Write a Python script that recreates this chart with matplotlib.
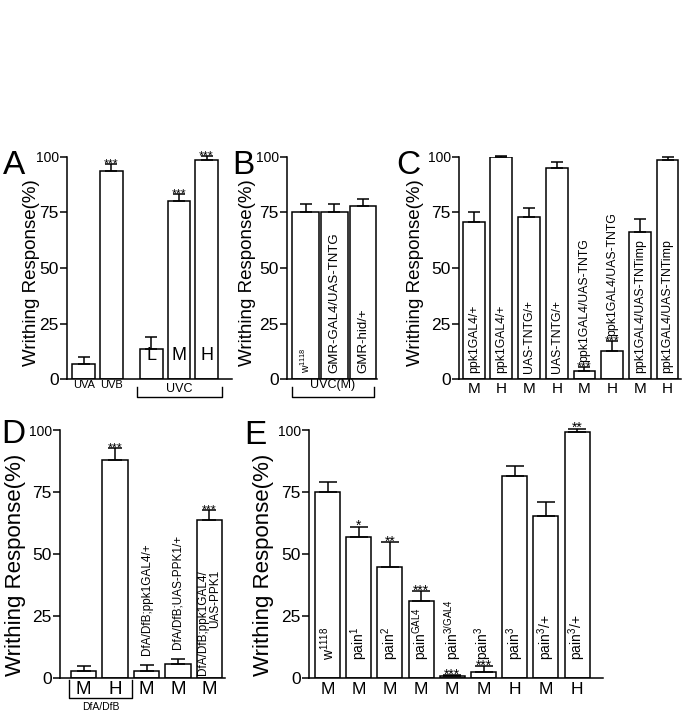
import numpy as np
import matplotlib
matplotlib.use("Agg")
import matplotlib.pyplot as plt

plt.rcParams['font.family'] = ['Liberation Sans', 'DejaVu Sans']
plt.rcParams['mathtext.fontset'] = 'custom'
plt.rcParams['mathtext.rm'] = 'Liberation Sans'
plt.rcParams['mathtext.it'] = 'Liberation Sans:italic'
plt.rcParams['mathtext.bf'] = 'Liberation Sans:bold'

# -------------------------------------------------------------------
# DATA
# -------------------------------------------------------------------
A_ticks = ["UVA", "UVB", "", "", ""]
A_inside = ["", "", "L", "M", "H"]
A_mean = [6.6, 93.5, 13.5, 80.0, 98.5]
A_sem = [3.2, 3.3, 5.5, 3.3, 2.1]
A_stars = ["", "***", "", "***", "***"]

B_labels = [r"w$^{1118}$", "GMR-GAL4/UAS-TNTG", "GMR-hid/+"]
B_mean = [75.0, 75.0, 78.0]
B_sem = [3.7, 3.7, 3.3]

C_ticks = ["M", "H", "M", "H", "M", "H", "M", "H"]
C_labels = ["ppk1GAL4/+", "ppk1GAL4/+", "UAS-TNTG/+", "UAS-TNTG/+",
            "ppk1GAL4/UAS-TNTG", "ppk1GAL4/UAS-TNTG",
            "ppk1GAL4/UAS-TNTimp", "ppk1GAL4/UAS-TNTimp"]
C_mean = [70.8, 100.0, 73.1, 94.9, 3.6, 12.6, 66.4, 98.6]
C_sem = [4.5, 0.3, 3.8, 3.0, 1.9, 4.5, 5.6, 1.4]
C_stars = ["", "", "", "", "***", "***", "", ""]

D_ticks = ["M", "H", "M", "M", "M"]
D_labels = ["", "", "DfA/DfB;ppk1GAL4/+", "DfA/DfB;UAS-PPK1/+",
            "DfA/DfB;ppk1GAL4/\nUAS-PPK1"]
D_mean = [3.0, 88.0, 3.0, 5.6, 63.6]
D_sem = [1.9, 4.7, 2.3, 2.0, 4.3]
D_stars = ["", "***", "", "", "***"]

E_ticks = ["M", "M", "M", "M", "M", "M", "H", "M", "H"]
E_labels = [r"w$^{1118}$", r"pain$^{1}$", r"pain$^{2}$", r"pain$^{\mathrm{GAL4}}$",
            r"pain$^{\mathrm{3/GAL4}}$", r"pain$^{3}$", r"pain$^{3}$",
            r"pain$^{3}$/+", r"pain$^{3}$/+"]
E_mean = [75.2, 56.7, 44.7, 30.9, 0.7, 2.4, 81.3, 65.4, 99.0]
E_sem = [3.8, 4.3, 10.1, 4.0, 0.4, 2.3, 4.3, 5.5, 1.6]
E_stars = ["", "*", "**", "***", "***", "***", "", "", "**"]

W, H = 685, 714
fig = plt.figure(figsize=(W / 100, H / 100), dpi=100)


def make_axes(x0, x1, y100, y0, c0, slot):
    """axes placed in pixel units; c0 = pixel centre of first bar, slot = bar spacing"""
    ax = fig.add_axes([x0 / W, 1 - y0 / H, (x1 - x0) / W, (y0 - y100) / H])
    ax.set_xlim((x0 - c0) / slot, (x1 - c0) / slot)
    ax.set_ylim(0, 100)
    for s in ["top", "right"]:
        ax.spines[s].set_visible(False)
    for s in ["left", "bottom"]:
        ax.spines[s].set_linewidth(1.1)
    ax.set_yticks([0, 25, 50, 75, 100])
    ax.set_yticklabels(["0", "25", "50", "75", "100"])
    ax.tick_params(axis="y", length=5, width=1.1, labelsize=12.5, pad=1)
    ax.get_yticklabels()[-1].set_fontsize(10)
    ax.tick_params(axis="x", length=0, labelsize=11, pad=2)
    return ax


def draw_bars(ax, pos, mean, sem, width, capsize, stars=None, star_size=10):
    ax.bar(pos, mean, width, color="white", edgecolor="black", linewidth=1.1, zorder=2)
    eb = ax.errorbar(pos, mean, yerr=[np.zeros(len(mean)), sem], fmt="none",
                     ecolor="black", elinewidth=1.1, capsize=capsize, capthick=1.1, zorder=3)
    for art in list(eb[1]) + list(eb[2]):
        art.set_clip_on(False)
    if stars:
        for p, m, s, st in zip(pos, mean, sem, stars):
            if st:
                ax.annotate(st, (p, m + s), xytext=(0, -2.5), textcoords="offset points",
                            ha="center", va="baseline", fontsize=star_size, annotation_clip=False)


def ylabel(x, y, size):
    fig.text(x / W, 1 - y / H, "Writhing Response(%)", rotation=90,
             ha="center", va="center", fontsize=size)


def letter(x, y, s):
    fig.text(x / W, 1 - y / H, s, ha="left", va="baseline", fontsize=24)


def bracket(ax, xa, xb, y_top, y_bot, label=None, label_y=None, size=9):
    tr = ax.get_xaxis_transform()
    ax.plot([xa, xa, xb, xb], [y_top, y_bot, y_bot, y_top], color="black",
            lw=1.0, transform=tr, clip_on=False)
    if label:
        ax.text((xa + xb) / 2, label_y, label, transform=tr, ha="center",
                va="center", fontsize=size)


# -------------------------------------------------------------------
# A
# -------------------------------------------------------------------
axA = make_axes(67, 232, 157, 379, 83.7, 27.6)
posA = np.array([0, 1, 2.45, 3.45, 4.45])
draw_bars(axA, posA, A_mean, A_sem, 0.82, 4.3, A_stars, 9)
axA.set_xticks(posA)
axA.set_xticklabels(A_ticks, fontsize=8)
axA.tick_params(axis="x", pad=1)
for p, t in zip(posA, A_inside):
    if t:
        axA.text(p, 10.8, t, ha="center", va="center", fontsize=13)
bracket(axA, 1.93, 5.01, -0.035, -0.081, "UVC", -0.045, 9)
ylabel(32, 273, 13.5)
letter(3, 174, "A")

# -------------------------------------------------------------------
# B
# -------------------------------------------------------------------
axB = make_axes(287, 377, 157, 379, 305.5, 28.75)
posB = np.arange(len(B_mean))
draw_bars(axB, posB, B_mean, B_sem, 0.925, 4.2)
axB.set_xticks([])
for p, t, fs in zip(posB, B_labels, [7.5, 9.5, 9.5]):
    axB.text(p, 2.7, t, rotation=90, ha="center", va="bottom", fontsize=fs)
bracket(axB, (291.7 - 305.5) / 28.75, (374 - 305.5) / 28.75, -0.035, -0.081,
        "UVC(M)", -0.025, 9)
ylabel(248, 273, 13.5)
letter(232, 174, "B")

# -------------------------------------------------------------------
# C
# -------------------------------------------------------------------
axC = make_axes(459, 681, 157, 379, 473.7, 27.69)
posC = np.arange(len(C_mean))
draw_bars(axC, posC, C_mean, C_sem, 0.79, 4.6, C_stars, 9)
axC.set_xticks(posC)
axC.set_xticklabels(C_ticks)
for p, t, m, s in zip(posC, C_labels, C_mean, C_sem):
    y = 2.7 if m > 30 else m + s + 2.3
    axC.text(p, y, t, rotation=90, ha="center", va="bottom", fontsize=8.8)
ylabel(416, 273, 13.5)
letter(396, 174, "C")

# -------------------------------------------------------------------
# D
# -------------------------------------------------------------------
axD = make_axes(60, 225, 430, 678, 83.7, 31.4)
posD = np.arange(len(D_mean))
draw_bars(axD, posD, D_mean, D_sem, 0.81, 5.3, D_stars, 9)
axD.set_xticks(posD)
axD.set_xticklabels(D_ticks, fontsize=13.5)
axD.tick_params(axis="x", pad=2)
for p, t, m, s in zip(posD, D_labels, D_mean, D_sem):
    if not t:
        continue
    y = 1.3 if m > 30 else m + s + 4
    axD.text(p, y, t, rotation=90, ha="center", va="bottom", fontsize=8.5,
             multialignment="right", linespacing=1.0)
bracket(axD, -0.47, 1.53, -0.008, -0.08, "DfA/DfB", -0.116, 7.5)
ylabel(16, 565, 16)
letter(1, 443, "D")

# -------------------------------------------------------------------
# E
# -------------------------------------------------------------------
axE = make_axes(309, 603, 430, 678, 327.5, 31.2)
posE = np.arange(len(E_mean))
draw_bars(axE, posE, E_mean, E_sem, 0.8, 6.4, E_stars, 10)
axE.set_xticks(posE)
axE.set_xticklabels(E_ticks, fontsize=12.5)
axE.tick_params(axis="x", pad=3)
for p, t in zip(posE, E_labels):
    axE.text(p, 7.2, t, rotation=90, ha="center", va="bottom", fontsize=10)
ylabel(263, 565, 16)
letter(244, 444, "E")

fig.savefig("out.png", dpi=100)
